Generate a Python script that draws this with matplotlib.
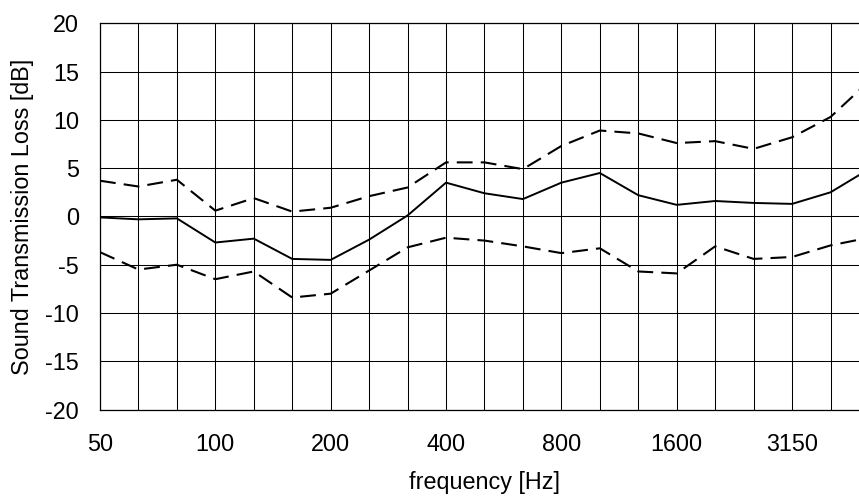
import numpy as np
import matplotlib.pyplot as plt

plt.rcParams['font.family'] = ['Liberation Sans', 'DejaVu Sans']
plt.rcParams['axes.unicode_minus'] = False

# third-octave band centre frequencies [Hz]
bands = ['50', '63', '80', '100', '125', '160', '200', '250', '315', '400',
         '500', '630', '800', '1000', '1250', '1600', '2000', '2500', '3150',
         '4000', '5000']

# mean and spread of the sound transmission loss [dB]
mean_tl = [-0.1, -0.3, -0.2, -2.7, -2.3, -4.4, -4.5, -2.4, 0.1, 3.5,
           2.4, 1.8, 3.5, 4.5, 2.2, 1.2, 1.6, 1.4, 1.3, 2.5, 4.9]
upper_tl = [3.7, 3.1, 3.8, 0.6, 1.9, 0.5, 0.9, 2.1, 3.0, 5.6,
            5.6, 4.9, 7.3, 8.9, 8.6, 7.6, 7.8, 7.0, 8.2, 10.3, 14.0]
lower_tl = [-3.7, -5.5, -5.0, -6.5, -5.7, -8.4, -8.0, -5.6, -3.2, -2.2,
            -2.5, -3.1, -3.8, -3.3, -5.7, -5.9, -3.1, -4.4, -4.2, -3.0, -2.2]

yticks = [-20, -15, -10, -5, 0, 5, 10, 15, 20]

fs = 16.8

fig = plt.figure(figsize=(8.59, 4.97), dpi=100)
# the plot runs past the right edge of the picture, as in the original
ax = fig.add_axes([0.1164, 0.176, 0.8952, 0.777])

x = np.arange(len(bands))
ax.plot(x, mean_tl, color='black', lw=1.4)
for series in (upper_tl, lower_tl):
    line, = ax.plot(x, series, color='black', lw=1.5)
    line.set_dashes((7.6, 3.9))

ax.set_xlim(0, len(bands) - 1)
ax.set_ylim(-20, 20)
ax.set_xticks(x)
ax.set_xticklabels([b if i % 3 == 0 else '' for i, b in enumerate(bands)])
ax.set_yticks(yticks)
ax.set_yticklabels([str(v) for v in yticks])
ax.tick_params(axis='both', length=0, labelsize=fs)
ax.tick_params(axis='x', pad=17)
ax.tick_params(axis='y', pad=15)
ax.grid(True, color='black', lw=0.75)
ax.set_axisbelow(True)
for s in ax.spines.values():
    s.set_linewidth(0.9)

ax.set_xlabel('frequency [Hz]', fontsize=fs, labelpad=11)
ax.set_ylabel('Sound Transmission Loss [dB]', fontsize=fs, labelpad=8)

fig.savefig('out.png', dpi=100)
